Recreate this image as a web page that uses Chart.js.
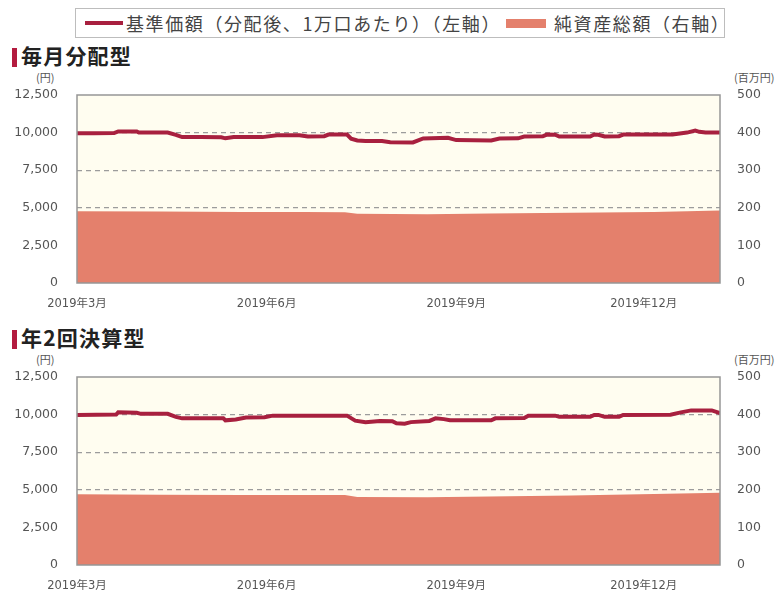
<!DOCTYPE html>
<html lang="ja">
<head>
<meta charset="utf-8">
<script src="https://cdn.jsdelivr.net/npm/chart.js@4.4.1/dist/chart.umd.min.js"></script>
<style>
	body{margin:0;width:784px;height:597px;overflow:hidden;background:#fff;position:relative;font-family:"Noto Sans CJK JP",sans-serif;}
	.leyenda{position:absolute;left:75px;top:8px;width:650px;height:30px;border:1px solid #bdbdbd;box-sizing:border-box;}
	.muestra{position:absolute;}
	.texto_leyenda{position:absolute;top:3px;font-size:18px;letter-spacing:1.6px;line-height:22px;color:#444;white-space:nowrap;}
	.titulo{position:absolute;left:12px;font-size:21px;letter-spacing:1.2px;font-weight:700;color:#222;line-height:24px;white-space:nowrap;}
	.titulo span{display:inline-block;width:5px;height:19px;background:#b31b3f;margin-right:4px;vertical-align:-3px;}
	.unidad{position:absolute;font-size:11px;color:#555;white-space:nowrap;}
	canvas{position:absolute;left:0;}
</style>
</head>
<body>
<div class="leyenda">
	<div class="muestra" style="left:9px;top:12px;width:38px;height:4px;background:#a8203f;"></div>
	<div class="texto_leyenda" style="left:50px;">基準価額（分配後、1万口あたり）（左軸）</div>
	<div class="muestra" style="left:430px;top:10px;width:40px;height:9px;background:#e4806c;"></div>
	<div class="texto_leyenda" style="left:478px;">純資産総額（右軸）</div>
</div>

<div class="titulo" style="top:43px;"><span></span>毎月分配型</div>
<div class="unidad" style="left:36px;top:69px;">(円)</div>
<div class="unidad" style="left:734px;top:69px;">(百万円)</div>
<canvas id="canva_1" width="784" height="250" style="top:68px;"></canvas>

<div class="titulo" style="top:325px;"><span></span>年2回決算型</div>
<div class="unidad" style="left:36px;top:351px;">(円)</div>
<div class="unidad" style="left:734px;top:351px;">(百万円)</div>
<canvas id="canva_2" width="784" height="250" style="top:350px;"></canvas>

<script>
// dias contados desde 2019/3/1
let dias_etiquetas = [0, 92, 184, 275];
let etiquetas_x = ['2019年3月','2019年6月','2019年9月','2019年12月'];

// 毎月分配型
let dias_kijun_1 = [0,8,18,20,29,30,44,48,51,60,70,72,76,90,97,108,112,120,122,131,133,136,140,148,152,163,168,180,184,201,205,214,217,226,228,232,234,249,251,253,256,263,265,289,296,300,302,305,312];
let kijun_1 = [9950,9960,9970,10080,10070,10000,10000,9850,9700,9700,9690,9620,9700,9700,9830,9830,9740,9760,9870,9870,9600,9480,9440,9440,9360,9350,9610,9650,9500,9480,9610,9620,9740,9750,9870,9860,9740,9740,9870,9860,9740,9760,9870,9880,10000,10130,10050,10000,10000];
let dias_shisan_1 = [0,40,80,110,130,136,170,200,240,280,312];
let shisan_1 = [191,190,189,189,188,184,183,185,187,189,193];

// 年2回決算型
let dias_kijun_2 = [0,19,20,29,31,44,48,51,71,72,77,82,91,95,131,135,140,147,153,155,159,162,171,174,178,181,201,203,217,219,232,234,249,251,253,256,263,265,288,293,298,308,312];
let kijun_2 = [9970,10000,10150,10120,10050,10050,9850,9750,9750,9620,9680,9800,9820,9930,9930,9600,9490,9580,9560,9420,9400,9500,9580,9750,9700,9620,9620,9750,9780,9930,9930,9850,9850,9980,9980,9850,9850,9980,9990,10150,10280,10280,10100];
let dias_shisan_2 = [0,40,80,130,136,170,200,240,280,312];
let shisan_2 = [188,187,186,186,181,180,182,185,189,192];

const color_linea = '#a8203f';
const color_area = '#e4806c';
const fuente_num = 'DejaVu Sans';

// fondo crema y marco del area de trazado
const marco = {
	id:'marco',
	beforeDraw(chart){
		let a = chart.chartArea, ctx = chart.ctx;
		ctx.save();
		ctx.fillStyle = '#fffdf0';
		ctx.fillRect(a.left, a.top, a.right - a.left, a.bottom - a.top);
		ctx.restore();
	},
	afterDraw(chart){
		let a = chart.chartArea, ctx = chart.ctx;
		ctx.save();
		ctx.strokeStyle = '#969696';
		ctx.lineWidth = 1.5;
		ctx.strokeRect(a.left, a.top, a.right - a.left, a.bottom - a.top);
		ctx.restore();
	}
};

function puntos(xs, ys){
	return xs.map((x,i)=>({x:x, y:ys[i]}));
}

function crear_grafico(id, dias_k, kijun, dias_s, shisan){
	const ctx = document.getElementById(id).getContext('2d');
	return new Chart(ctx, {
		type:'line',
		data:{
			datasets:[{
				label:'基準価額（分配後、1万口あたり）（左軸）',
				data:puntos(dias_k, kijun),
				borderColor:color_linea,
				borderWidth:4,
				pointRadius:0,
				tension:0,
				yAxisID:'y'
			},{
				label:'純資産総額（右軸）',
				data:puntos(dias_s, shisan),
				borderWidth:0,
				backgroundColor:color_area,
				fill:'origin',
				pointRadius:0,
				tension:0,
				yAxisID:'y2'
			}]
		},
		options:{
			responsive:false,
			animation:false,
			devicePixelRatio:1,
			layout:{padding:{top:27,left:0,right:0,bottom:0}},
			plugins:{legend:{display:false}, tooltip:{enabled:false}},
			scales:{
				x:{
					type:'linear',
					min:0,
					max:312,
					grid:{display:false, drawTicks:false},
					border:{display:false},
					afterBuildTicks:s=>{ s.ticks = dias_etiquetas.map(v=>({value:v})); },
					afterFit:s=>{ s.height = 35; },
					ticks:{
						padding:14,
						maxRotation:0,
						autoSkip:false,
						color:'#555',
						font:{family:'DejaVu Sans, Noto Sans CJK JP', size:11.5},
						callback:(v)=>{
							let i = dias_etiquetas.indexOf(v);
							return i >= 0 ? etiquetas_x[i] : '';
						}
					}
				},
				y:{
					position:'left',
					min:0,
					max:12500,
					afterFit:s=>{ s.width = 77; },
					grid:{
						drawTicks:false,
						lineWidth:1.3,
						color:c=>(c.tick.value == 0 || c.tick.value == 12500) ? 'rgba(0,0,0,0)' : '#9c9c9c'
					},
					border:{display:false, dash:[5,4]},
					ticks:{
						stepSize:2500,
						padding:19,
						color:'#555',
						font:{family:fuente_num, size:12.5},
						callback:v=>v.toLocaleString('en-US')
					}
				},
				y2:{
					position:'right',
					min:0,
					max:500,
					afterFit:s=>{ s.width = 64; },
					grid:{display:false, drawTicks:false},
					border:{display:false},
					ticks:{
						stepSize:100,
						padding:17,
						color:'#555',
						font:{family:fuente_num, size:12.5}
					}
				}
			}
		},
		plugins:[marco]
	});
}

crear_grafico('canva_1', dias_kijun_1, kijun_1, dias_shisan_1, shisan_1);
crear_grafico('canva_2', dias_kijun_2, kijun_2, dias_shisan_2, shisan_2);
</script>
</body>
</html>
